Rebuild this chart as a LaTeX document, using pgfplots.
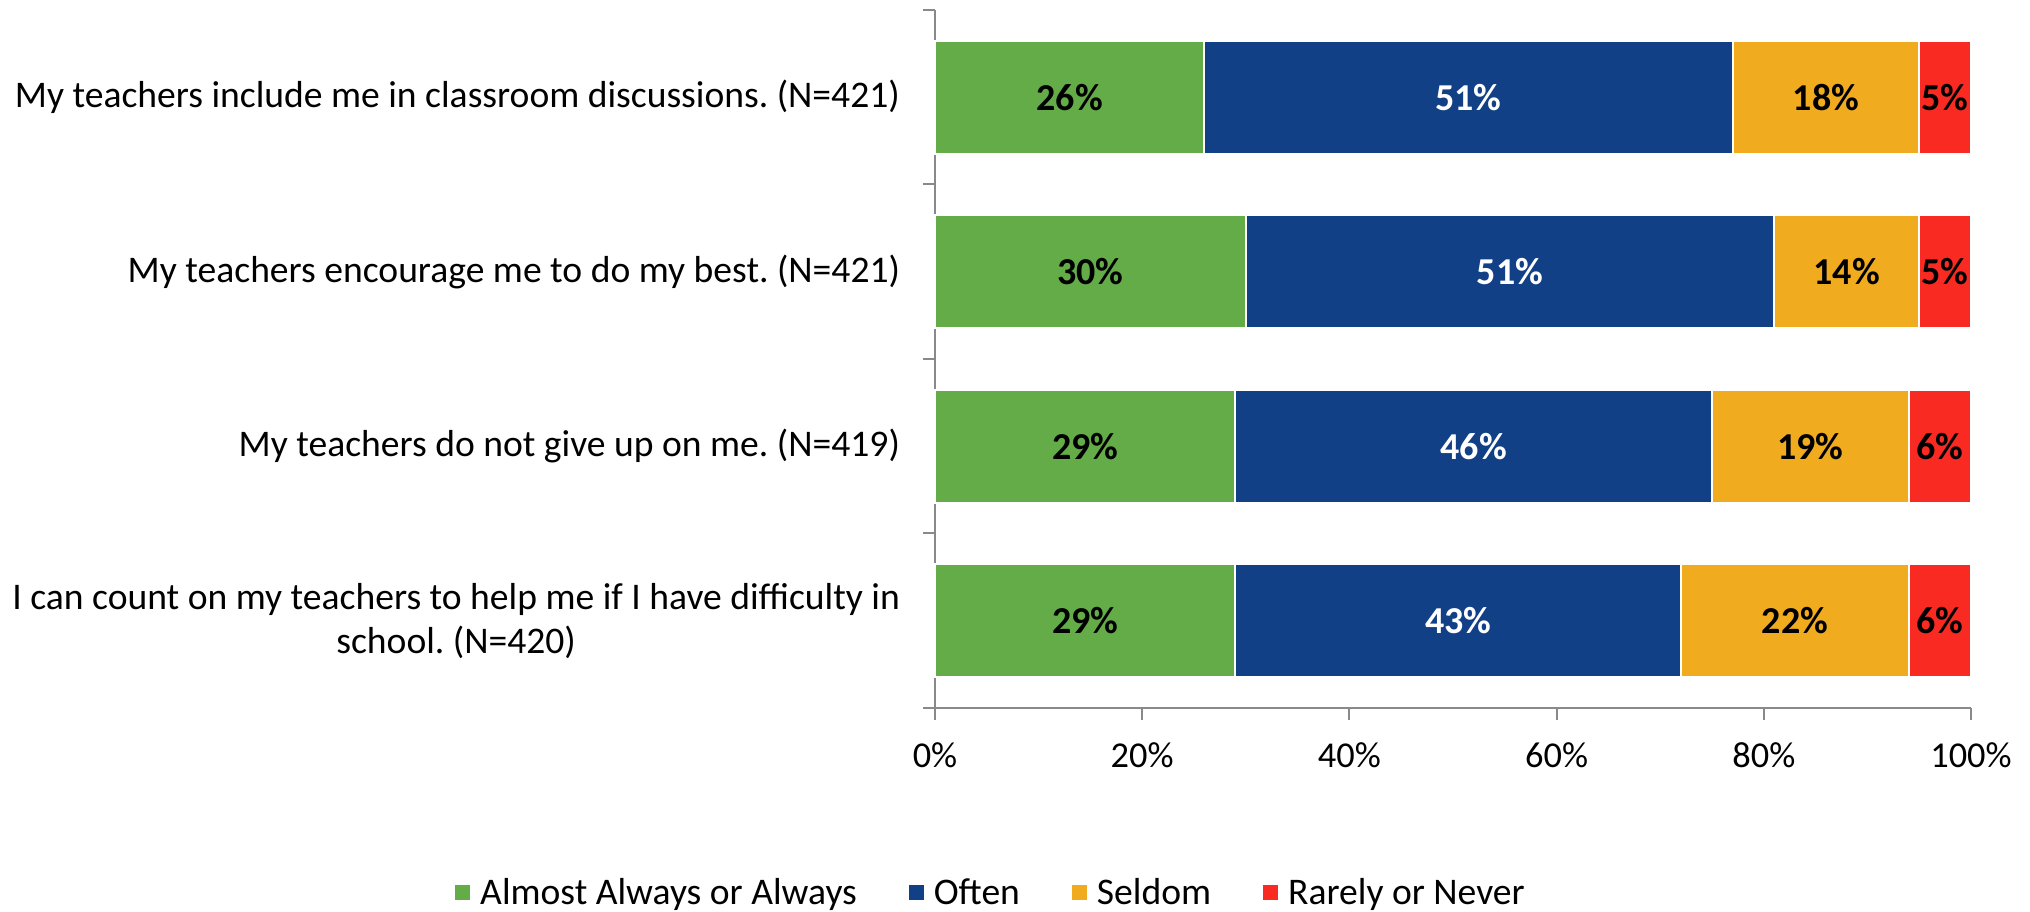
\documentclass[border=0pt]{standalone}
\usepackage{pgfplots}
\pgfplotsset{compat=1.18}
\usepackage{pgfplotstable}
\usepackage{fontspec}
\setmainfont{Carlito}
\frenchspacing
\definecolor{cgreen}{RGB}{99,172,71}
\definecolor{cblue}{RGB}{18,64,135}
\definecolor{cyellow}{RGB}{240,171,30}
\definecolor{cred}{RGB}{249,42,34}
\definecolor{axgray}{RGB}{137,137,137}
\newcommand\lbl{\fontsize{18.8bp}{22bp}\selectfont}
\newcommand\tlbl{\fontsize{18.2bp}{22bp}\selectfont}

\pgfplotstableread{
y a b c d
3 26 51 18 5
2 30 51 14 5
1 29 46 19 6
0 29 43 22 6
}\data

\pgfplotstableread{
x y v
13 3 26
86 3 18
97.5 3 5
15 2 30
88 2 14
97.5 2 5
14.5 1 29
84.5 1 19
97 1 6
14.5 0 29
83 0 22
97 0 6
}\darklabels

\pgfplotstableread{
x y v
51.5 3 51
55.5 2 51
52 1 46
50.5 0 43
}\lightlabels

\begin{document}
\begin{tikzpicture}
\useasboundingbox (0,0) rectangle (1015bp,456bp);
\begin{axis}[
  at={(467.5bp,102bp)}, anchor=south west,
  width=518bp, height=349bp, scale only axis,
  xbar stacked,
  bar width=0.65,
  xmin=0, xmax=100, ymin=-0.5, ymax=3.5,
  axis x line*=bottom, axis y line*=left,
  axis line style={draw=axgray, line width=1bp, -},
  tick style={draw=axgray, line width=1bp},
  tick align=outside,
  xtick={0,20,...,100},
  xticklabels={0\%,20\%,40\%,60\%,80\%,100\%},
  major tick length=6bp,
  ytick={0,1,2,3},
  y tick style={draw=none},
  yticklabels={{I can count on my teachers to help me if I have difficulty in\\school. (N=420)},
    {My teachers do not give up on me. (N=419)},
    {My teachers encourage me to do my best. (N=421)},
    {My teachers include me in classroom discussions. (N=421)}},
  extra y ticks={-0.5,0.5,1.5,2.5,3.5},
  extra y tick labels={},
  extra y tick style={y tick style={draw=axgray, line width=1bp}, major tick length=6bp},
  yticklabel style={font=\lbl, align=center, xshift=-8bp},
  xticklabel style={font=\tlbl, yshift=-8bp},
  legend columns=4,
  legend style={at={(0.055,-0.265)}, anchor=center, draw=none, font=\lbl,
    /tikz/every odd column/.append style={column sep=3bp},
    /tikz/every even column/.append style={column sep=24bp}},
  legend image code/.code={\fill[#1, draw=none] (0bp,-3.75bp) rectangle (7.5bp,3.75bp);},
  clip=false,
]
\addplot[fill=cgreen, draw=white, line width=1bp] table[x=a, y=y] {\data};
\addplot[fill=cblue, draw=white, line width=1bp] table[x=b, y=y] {\data};
\addplot[fill=cyellow, draw=white, line width=1bp] table[x=c, y=y] {\data};
\addplot[fill=cred, draw=white, line width=1bp] table[x=d, y=y] {\data};
\legend{Almost Always or Always, Often, Seldom, Rarely or Never}
\end{axis}
\begin{axis}[
  at={(467.5bp,102bp)}, anchor=south west,
  width=518bp, height=349bp, scale only axis,
  xmin=0, xmax=100, ymin=-0.5, ymax=3.5,
  hide axis, clip=false,
  point meta=explicit,
  /pgf/number format/assume math mode=true,
  nodes near coords={\pgfmathprintnumber{\pgfplotspointmeta}\%},
  every node near coord/.append style={anchor=center, font=\fontsize{19bp}{22bp}\selectfont\bfseries},
]
\addplot[only marks, mark=none, every node near coord/.append style={text=black}] table[x=x, y=y, meta=v] {\darklabels};
\addplot[only marks, mark=none, every node near coord/.append style={text=white}] table[x=x, y=y, meta=v] {\lightlabels};
\end{axis}
\end{tikzpicture}
\end{document}
